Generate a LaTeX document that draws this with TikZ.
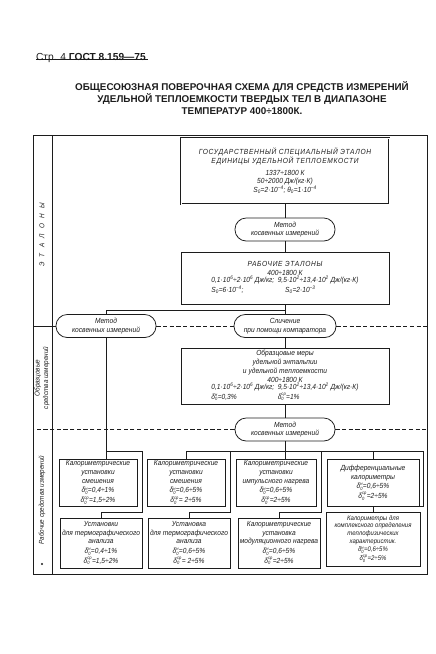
\documentclass[tikz,border=0pt]{standalone}
\usepackage{fontspec}
\setmainfont{Liberation Sans}
\newfontfamily\boxfont{Liberation Sans}[FakeStretch=0.9]
\usetikzlibrary{positioning}

\definecolor{ink}{HTML}{1C1C1C}

\newcommand\idx[1]{\mbox{\boxfont\itshape\fontsize{6.5}{7}\selectfont #1}}
\newcommand\dlt[1]{δ${}_{\idx{0}}^{\idx{#1}}$}
\newcommand\pw[1]{\textsuperscript{#1}}
\newcommand\spaced[1]{{\addfontfeature{LetterSpace=9}#1}}

\tikzset{
  every node/.style={font=\boxfont\fontsize{10.5}{12.5}\selectfont\itshape,
    text=ink, align=center, inner sep=0pt},
  link/.style={draw=ink, line width=1.1pt},
  sepline/.style={draw=ink, line width=0.9pt, dash pattern=on 6pt off 3.5pt},
  panel/.style={draw=ink, line width=1.2pt},
  box/.style={rectangle, draw=ink, line width=1.1pt},
  stdbox/.style={box, double=white, double distance=1.3pt, line width=0.8pt},
  stadium/.style={box, rounded corners=5.6mm, minimum height=11.5mm,
    minimum width=50mm},
  lane/.style={rotate=90, font=\boxfont\fontsize{10}{12}\selectfont\itshape},
  head/.style={font=\rmfamily\fontsize{14.5}{16}\selectfont, anchor=base west},
  title/.style={font=\rmfamily\fontsize{14}{17}\selectfont\bfseries},
  small/.style={font=\boxfont\fontsize{9.5}{11}\selectfont\itshape}
}

\begin{document}
\begin{tikzpicture}[x=0.5mm, y=-0.5mm]
  \useasboundingbox (0,0) rectangle (435,654);

  % Page header and title.
  \node[head] (hdr) at (36,60) {Стр. 4 \textbf{ГОСТ 8.159—75}};
  \draw[line width=1.6pt, draw=ink] (hdr.south west) ++(0,-3) coordinate (ul-a)
    -- ([xshift=1mm]ul-a -| hdr.south east);
  \node[title] (ttl) at (242,98)
    {ОБЩЕСОЮЗНАЯ ПОВЕРОЧНАЯ СХЕМА ДЛЯ СРЕДСТВ ИЗМЕРЕНИЙ\\
     УДЕЛЬНОЙ ТЕПЛОЕМКОСТИ ТВЕРДЫХ ТЕЛ В ДИАПАЗОНЕ\\
     ТЕМПЕРАТУР 400÷1800К.};

  % Outer frame and the lane column.
  \coordinate (fr-ne) at (427,135);
  \coordinate (fr-sw) at (33,574);
  \draw[panel] (fr-sw) rectangle (fr-ne);
  \coordinate (col-top) at (52,135);
  \coordinate (col-bot) at (52,574);
  \draw[link, line width=0.7pt] (col-top) -- (col-bot);

  \node[lane] (lane-et) at (42,235) {Э\ \ \ Т\ \ \ А\ \ \ Л\ \ \ О\ \ \ Н\ \ \ Ы};
  \node[lane] (lane-obr) at (42,378) {Образцовые\\средства измерений};
  \node[lane] (lane-rab) at (42,500) {Рабочие средства измерений};
  \node[circle, fill=ink, minimum size=1.2mm] (dot) at (42,564) {};

  % Standards.
  \node[stdbox, minimum width=104mm, minimum height=33mm] (gse) at (285,171)
    {\spaced{ГОСУДАРСТВЕННЫЙ СПЕЦИАЛЬНЫЙ ЭТАЛОН}\\
     \spaced{ЕДИНИЦЫ УДЕЛЬНОЙ ТЕПЛОЕМКОСТИ}\\[4pt]
     1337÷1800 К\\
     50÷2000 Дж/(кг·К)\\
     S\textsubscript{0}=2·10\pw{−4};\ θ\textsubscript{0}=1·10\pw{−4}};
  \node[stadium] (m1) at (285,229.5) {Метод\\косвенных измерений};
  \node[box, minimum width=104mm, minimum height=26mm] (rab) at (285,278)
    {\spaced{РАБОЧИЕ ЭТАЛОНЫ}\\
     400÷1800 К\\
     \begin{tabular}{@{}l@{\hspace{5pt}}l@{}}
       0,1·10\pw{6}÷2·10\pw{6} Дж/кг; & 9,5·10\pw{2}÷13,4·10\pw{2} Дж/(кг·К)\\[1pt]
       S\textsubscript{0}=6·10\pw{−4}; & \quad S\textsubscript{0}=2·10\pw{−3}
     \end{tabular}};
  \draw[link] (gse) -- (m1);
  \draw[link] (m1) -- (rab);

  % Reference measures.
  \node[stadium] (lm) at (106,326) {Метод\\косвенных измерений};
  \node[stadium, minimum width=51mm] (srav) at (285,326)
    {Сличение\\при помощи компаратора};
  \coordinate (j1) at (285,310);
  \draw[link] (rab) -- (srav);
  \draw[link] (j1) -| (lm.north);
  \draw[link] (lm.west) -- (lm.west -| fr-sw);
  \draw[sepline] (lm.east) -- (srav.west);
  \draw[sepline] (srav.east) -- (srav.east -| fr-ne);

  \node[box, minimum width=104mm, minimum height=28mm] (obr) at (285,376)
    {Образцовые меры\\
     удельной энтальпии\\
     и удельной теплоемкости\\
     400÷1800 К\\
     \begin{tabular}{@{}l@{\hspace{5pt}}l@{}}
       0,1·10\pw{6}÷2·10\pw{6} Дж/кг; & 9,5·10\pw{2}÷13,4·10\pw{2} Дж/(кг·К)\\[1.5pt]
       \dlt{н}=0,3\% & \dlt{ср}=1\%
     \end{tabular}};
  \node[stadium] (m3) at (285,429.5) {Метод\\косвенных измерений};
  \draw[link] (srav) -- (obr);
  \draw[link] (obr) -- (m3);
  \draw[sepline] (m3.west) -- (m3.west -| fr-sw);
  \draw[sepline] (m3.east) -- (m3.east -| fr-ne);

  % Working instruments, upper row.
  \node[box, minimum width=39mm, minimum height=23.5mm] (ub1) at (98,482.5)
    {Калориметрические\\установки\\смешения\\[1pt]
     \dlt{н}=0,4÷1\%\\[1.5pt]\dlt{ср}=1,5÷2\%};
  \node[box, minimum width=39mm, minimum height=23.5mm] (ub2) at (186,482.5)
    {Калориметрические\\установки\\смешения\\[1pt]
     \dlt{н}=0,6÷5\%\\[1.5pt]\dlt{ср}=\ 2÷5\%};
  \node[box, minimum width=40mm, minimum height=23.5mm] (ub3) at (276,482.5)
    {Калориметрические\\установки\\импульсного нагрева\\[1pt]
     \dlt{н}=0,6÷5\%\\[1.5pt]\dlt{ср}=2÷5\%};
  \node[box, minimum width=46mm, minimum height=23.5mm] (ub4) at (373,482.5)
    {Дифференциальные\\калориметры\\[1pt]
     \dlt{н}=0,6÷5\%\\[1.5pt]\dlt{ср}=2÷5\%};

  % Working instruments, lower row.
  \node[box, minimum width=41mm, minimum height=25mm] (lb1) at (101,543)
    {Установки\\для термографического\\анализа\\[1pt]
     \dlt{н}=0,4÷1\%\\[1.5pt]\dlt{ср}=1,5÷2\%};
  \node[box, minimum width=41mm, minimum height=25mm] (lb2) at (189,543)
    {Установка\\для термографического\\анализа\\[1pt]
     \dlt{н}=0,6÷5\%\\[1.5pt]\dlt{ср}=\ 2÷5\%};
  \node[box, minimum width=41mm, minimum height=25mm] (lb3) at (279,543)
    {Калориметрические\\установка\\модуляционного нагрева\\[1pt]
     \dlt{н}=0,6÷5\%\\[1.5pt]\dlt{ср}=2÷5\%};
  \node[box, small, minimum width=47mm, minimum height=27mm] (lb4) at (373,539)
    {Калориметры для\\комплексного определения\\теплофизических\\
     характеристик.\\[1pt]\dlt{н}=0,6÷5\%\\[1.5pt]\dlt{ср}=2÷5\%};

  % Left branch feeds both rows of the first column.
  \coordinate (jl) at (106,451);
  \coordinate (by1) at (142,512);
  \draw[link] (lm.south) -- (lm.south |- ub1.north);
  \draw[link] (jl) -| (by1) -| (lb1.north);

  % Main bus under the last method.
  \coordinate (bus-l) at (186,451);
  \coordinate (bus-r) at (423,451);
  \coordinate (by2) at (230,512);
  \coordinate (by3) at (321,512);
  \coordinate (by4) at (423,506);
  \draw[link] (m3.south) -- (m3.south |- ub3.north);
  \draw[link] (bus-l) -- (bus-r);
  \draw[link] (bus-l) -- (ub2.north);
  \draw[link] (ub4.north |- bus-l) -- (ub4.north);
  \draw[link] (by2 |- bus-l) -- (by2) -| (lb2.north);
  \draw[link] (by3 |- bus-l) -- (by3) -| (lb3.north);
  \draw[link] (bus-r) -- (by4) -| (lb4.north);
\end{tikzpicture}
\end{document}
